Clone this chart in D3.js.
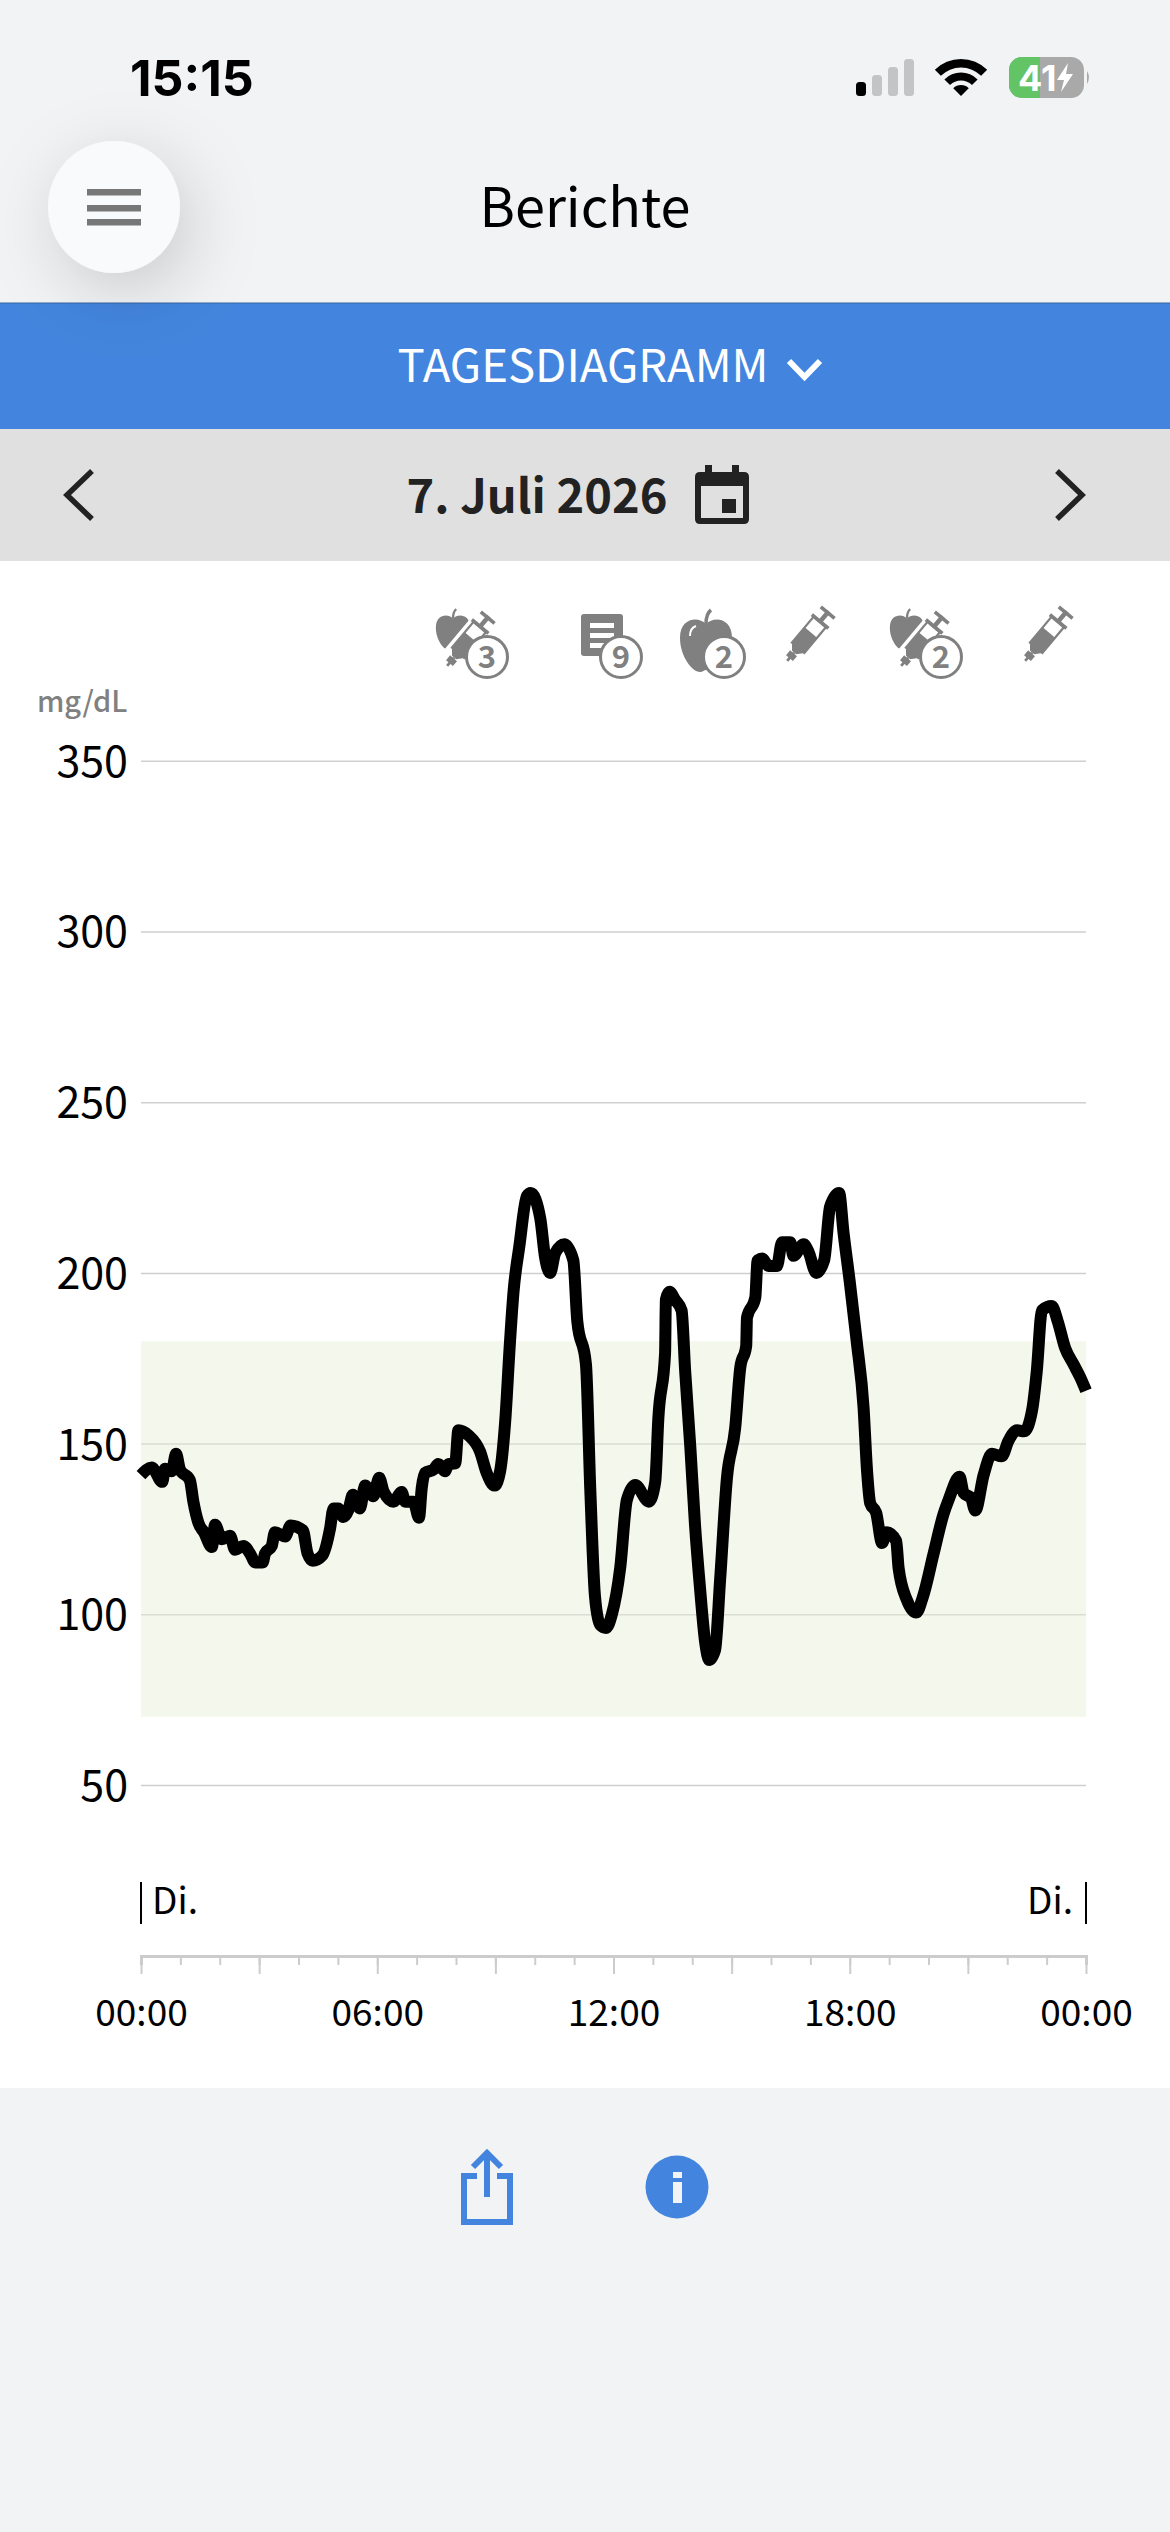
<!DOCTYPE html>
<html lang="de">
<head>
<meta charset="utf-8">
<title>Berichte - Tagesdiagramm</title>
<script src="https://d3js.org/d3.v7.min.js"></script>
<style>
	html, body { margin: 0; padding: 0; background: #f1f3f5; }
	svg { display: block; }
	text { font-family: "Noto Sans CJK JP", "Noto Sans", sans-serif; }
	.status { font-family: Inter, Roboto, sans-serif; font-weight: 700; }
	.yAxis text, .xAxis text { font-family: "Noto Sans CJK JP", "Noto Sans", sans-serif; fill: #000; }
</style>
</head>
<body>
<script>
	// time of each reading (hours since midnight) and glucose in mg/dL
	var hours = [0,0.27,0.54,0.61,0.78,0.89,0.99,1.24,1.33,1.46,1.6,1.8,1.88,2.05,2.26,2.39,2.6,2.77,2.9,3.09,
		3.15,3.32,3.4,3.66,3.8,4.11,4.23,4.36,4.61,4.8,4.89,5.01,5.14,5.27,5.38,5.56,5.69,5.9,6.05,6.16,
		6.41,6.62,6.71,6.92,7.06,7.13,7.21,7.43,7.55,7.72,7.81,7.98,8.06,8.32,8.61,8.78,8.98,9.12,9.25,9.37,
		9.46,9.61,9.8,9.9,10.14,10.26,10.39,10.52,10.75,10.98,11.08,11.3,11.41,11.53,11.66,11.81,11.96,12.17,12.34,12.55,
		12.9,13.06,13.14,13.31,13.33,13.42,13.56,13.73,13.82,13.95,14.07,14.2,14.33,14.43,14.58,14.71,14.88,15.09,15.22,15.37,
		15.39,15.6,15.66,15.78,15.94,16.15,16.28,16.49,16.57,16.83,16.95,17.15,17.35,17.5,17.73,17.84,18,18.18,18.35,18.44,
		18.52,18.67,18.82,18.94,19.18,19.24,19.45,19.69,19.86,20.13,20.38,20.51,20.79,20.89,21.08,21.19,21.4,21.61,21.86,22.03,
		22.25,22.43,22.63,22.75,22.88,23.13,23.28,23.47,23.68,23.85,24];
	var glucose = [140.8,143,138.8,142.6,141.9,147,142.4,139.3,133,126.7,124,119.7,126.2,122,123,118.9,120,117.8,115.2,115.2,
		117.8,120,124,122.8,126,124.6,117.8,115.7,117.3,125,131,131,128.5,130.6,135,131,137.7,134.6,140,136,
		133,135.8,133,133,128.3,137,141.4,142.4,144,141.9,144,144.2,153.9,152.4,147.7,141.4,137.7,141.9,156.6,179.6,
		194.3,207.9,222.5,223.4,216,204.7,200,205.8,208.4,203.7,185.9,173.3,136.7,105.2,96.9,96,100,113.6,133.5,137.9,
		133,138.8,157.6,176.5,192.2,194.5,192.2,189,171.2,149.2,126.2,107.3,91.6,86.6,89.5,110.5,139.8,154.5,172.3,178.6,
		186.9,192.7,203.7,204.2,202,202,209,209,205,208.4,206.3,200,203.7,219.4,223.4,212,197.4,179.6,160.7,141.9,
		132.5,129.8,120.9,124,121.5,113.6,104.2,100.5,105.2,117.8,129.3,133.5,140.3,135.6,134,130.4,140.8,147,146.3,150.8,
		153.9,153.6,159.7,171.2,189,190.3,185.9,178,173.3,169.5,165.5];

	var yTicks = [50,100,150,200,250,300,350];
	var hourTicks = d3.range(0,25);
	var majorTicks = [0,3,6,9,12,15,18,21,24];
	var xLabels = {0:"00:00",6:"06:00",12:"12:00",18:"18:00",24:"00:00"};
	var targetRange = [70,180];
	// event icons along the top of the chart
	var eventIcons = [
		{kind:"both", x:468, badge:3},
		{kind:"note", x:602, badge:9},
		{kind:"apple", x:706, badge:2},
		{kind:"syringe", x:808},
		{kind:"both", x:922, badge:2},
		{kind:"syringe", x:1046}
	];

	var width = 1170, height = 2532;
	var blue = "#4385de", grey = "#808080", pageBg = "#f1f3f5";

	var svg = d3.select("body").append("svg")
		.attr("width", width)
		.attr("height", height);

	var defs = svg.append("defs");
	var shadow = defs.append("filter").attr("id","btnShadow")
		.attr("x","-100%").attr("y","-100%").attr("width","320%").attr("height","320%");
	shadow.append("feDropShadow")
		.attr("dx",10).attr("dy",18).attr("stdDeviation",34)
		.attr("flood-color","#000").attr("flood-opacity",0.17);

	// page bands
	svg.append("rect").attr("width",width).attr("height",height).attr("fill",pageBg);
	svg.append("rect").attr("y",303).attr("width",width).attr("height",126).attr("fill",blue);
	svg.append("rect").attr("y",429).attr("width",width).attr("height",132).attr("fill","#e0e0e0");
	svg.append("rect").attr("y",561).attr("width",width).attr("height",1527).attr("fill","#fff");
	svg.append("line").attr("x1",0).attr("x2",width).attr("y1",303).attr("y2",303)
		.attr("stroke","#35669f").attr("stroke-width",1);

	// status bar
	svg.append("text").attr("class","status").attr("x",130).attr("y",96)
		.attr("font-size",50).attr("fill","#000").text("15:15");

	var signal = [[856,82],[872,75],[888,67],[904,59]];
	svg.selectAll(".sig").data(signal).enter().append("rect")
		.attr("x",function(d){ return d[0]; })
		.attr("y",function(d){ return d[1]; })
		.attr("width",10)
		.attr("height",function(d){ return 96-d[1]; })
		.attr("rx",3.5)
		.attr("fill",function(d,i){ return i==0 ? "#000" : "#c2c4c6"; });

	var wifi = d3.arc().startAngle(-Math.PI/4).endAngle(Math.PI/4);
	[[0,11],[15.5,23.5],[28.5,37]].forEach(function(r){
		svg.append("path")
			.attr("transform","translate(961,96)")
			.attr("d",wifi({innerRadius:r[0],outerRadius:r[1]}))
			.attr("fill","#000");
	});

	defs.append("clipPath").attr("id","battClip")
		.append("rect").attr("x",1009).attr("y",57).attr("width",75).attr("height",41).attr("rx",13);
	var batt = svg.append("g");
	batt.append("rect").attr("x",1009).attr("y",57).attr("width",75).attr("height",41).attr("fill","#a9a9a9").attr("clip-path","url(#battClip)");
	batt.append("rect").attr("x",1009).attr("y",57).attr("width",31).attr("height",41).attr("fill","#63c466").attr("clip-path","url(#battClip)");
	batt.append("path").attr("d","M1087,71 Q1091,77 1087,84 Z").attr("fill","#a9a9a9");
	batt.append("text").attr("class","status").attr("x",1018).attr("y",91)
		.attr("font-size",36).attr("fill","#fff").text("41");
	batt.append("path").attr("d","M1068,63 L1057,80 L1064,80 L1061,92 L1073,74 L1066,74 Z").attr("fill","#fff");

	// header
	svg.append("text").attr("x",585).attr("y",227).attr("text-anchor","middle")
		.attr("font-size",54).attr("fill","#000").text("Berichte");

	svg.append("text").attr("x",583).attr("y",382).attr("text-anchor","middle")
		.attr("font-size",45.5).attr("fill","#fff").text("TAGESDIAGRAMM");
	svg.append("path").attr("d","M789,361 L804.5,377 L820,361")
		.attr("fill","none").attr("stroke","#fff").attr("stroke-width",6);

	svg.append("text").attr("x",537).attr("y",513).attr("text-anchor","middle")
		.attr("font-size",47).attr("font-weight",700).attr("fill","#222").text("7. Juli 2026");
	svg.append("path").attr("d","M92,471 L67,495 L92,519 M1057,471 L1082,495 L1057,519")
		.attr("fill","none").attr("stroke","#222").attr("stroke-width",5.5);

	// calendar icon
	var cal = svg.append("g").attr("fill","#222");
	cal.append("path").attr("fill-rule","evenodd")
		.attr("d","M700,472 H705 V465 H712 V472 H732 V465 H739 V472 H744 Q749,472 749,477 V519 Q749,524 744,524 H700 Q695,524 695,519 V477 Q695,472 700,472 Z M701,486 V518 H743 V486 Z");
	cal.append("rect").attr("x",722).attr("y",499).attr("width",14).attr("height",14);

	// menu button
	svg.append("circle").attr("cx",114).attr("cy",207).attr("r",66)
		.attr("fill","#f9fafb").attr("filter","url(#btnShadow)");
	svg.selectAll(".bar").data([189,205,219]).enter().append("rect")
		.attr("x",87).attr("y",function(d){ return d; })
		.attr("width",54).attr("height",6.5).attr("fill","#777");

	// chart
	var x = d3.scaleLinear().domain([0,24]).range([141,1086]);
	var y = d3.scaleLinear().domain([100,200]).range([1614.3,1272.9]);

	svg.append("g").attr("class","yAxis")
		.attr("transform","translate(141,0)")
		.call(d3.axisLeft(y).tickValues(yTicks).tickSize(-945).tickPadding(13))
		.call(function(g){
			g.select(".domain").remove();
			g.selectAll("line").attr("stroke","#cfcfcf").attr("stroke-width",1.5);
			g.selectAll("text").attr("font-size",43).attr("dy","0.36em");
		});

	// target range sits over the grid, that is why the lines fade inside it
	svg.append("rect")
		.attr("x",x(0))
		.attr("width",x(24)-x(0))
		.attr("y",y(targetRange[1]))
		.attr("height",y(targetRange[0])-y(targetRange[1]))
		.attr("fill","#e7eed4")
		.attr("opacity",0.45);

	var line = d3.line()
		.x(function(d){ return x(d[0]); })
		.y(function(d){ return y(d[1]); })
		.curve(d3.curveMonotoneX);

	svg.append("path")
		.datum(d3.zip(hours,glucose))
		.attr("d",line)
		.attr("fill","none")
		.attr("stroke","#000")
		.attr("stroke-width",12)
		.attr("stroke-linejoin","round");

	svg.append("text").attr("x",37).attr("y",712)
		.attr("font-size",29).attr("font-weight",500).attr("fill",grey).text("mg/dL");

	// day markers
	var axisY = 1956;
	[[0,"start",11,"Di."],[24,"end",-13,"Di."]].forEach(function(m){
		svg.append("line").attr("x1",x(m[0])).attr("x2",x(m[0]))
			.attr("y1",1882).attr("y2",1924)
			.attr("stroke","#000").attr("stroke-width",2);
		svg.append("text").attr("x",x(m[0])+m[2]).attr("y",1914)
			.attr("text-anchor",m[1]).attr("font-size",37).attr("fill","#000").text(m[3]);
	});

	// x axis, hours short, every third hour long
	svg.append("g")
		.attr("transform","translate(0,"+axisY+")")
		.call(d3.axisBottom(x).tickValues(hourTicks).tickSizeOuter(0).tickSize(9).tickFormat(""))
		.call(function(g){
			g.select(".domain").attr("stroke","#cccccc").attr("stroke-width",3);
			g.selectAll("line").attr("stroke","#cccccc").attr("stroke-width",2);
		});
	svg.append("g").attr("class","xAxis")
		.attr("transform","translate(0,"+axisY+")")
		.call(d3.axisBottom(x).tickValues(majorTicks).tickSize(18).tickPadding(26)
			.tickFormat(function(d){ return xLabels[d] || ""; }))
		.call(function(g){
			g.select(".domain").remove();
			g.selectAll("line").attr("stroke","#cccccc").attr("stroke-width",2);
			g.selectAll("text").attr("font-size",37);
		});

	// event icons
	var applePath = "M0,-16 C-8,-24 -26,-22 -26,-2 C-26,16 -14,32 -6,32 C-3,32 -2,30 0,30 C2,30 3,32 6,32 C14,32 26,16 26,-2 C26,-22 8,-24 0,-16 Z";

	function drawApple(g, cx, cy, s) {
		var a = g.append("g").attr("transform","translate("+cx+","+cy+") scale("+s+")");
		a.append("path").attr("d",applePath).attr("fill",grey);
		a.append("path").attr("d","M0,-16 C0,-23 1,-27 5,-30")
			.attr("fill","none").attr("stroke",grey).attr("stroke-width",3.5);
		return a;
	}

	function drawSyringe(g, cx, cy, halo) {
		var s = g.append("g").attr("transform","translate("+cx+","+cy+") rotate(40) scale(0.9)");
		if (halo) {
			s.append("rect").attr("x",-14).attr("y",-24).attr("width",28).attr("height",50).attr("fill","#fff");
		}
		s.append("rect").attr("x",-10).attr("y",-36).attr("width",20).attr("height",4).attr("fill",grey);
		s.append("rect").attr("x",-2.5).attr("y",-36).attr("width",5).attr("height",15).attr("fill",grey);
		s.append("rect").attr("x",-12).attr("y",-23).attr("width",24).attr("height",4).attr("fill",grey);
		s.append("rect").attr("x",-9).attr("y",-20).attr("width",18).attr("height",37).attr("fill","#fff")
			.attr("stroke",grey).attr("stroke-width",2.5);
		s.append("rect").attr("x",-9).attr("y",-5).attr("width",18).attr("height",22).attr("fill",grey);
		s.append("path").attr("d","M-9,17 L-3,24 L3,24 L9,17 Z").attr("fill",grey);
		s.append("rect").attr("x",-1.5).attr("y",24).attr("width",3).attr("height",12).attr("fill",grey);
		s.append("rect").attr("x",-5).attr("y",25).attr("width",10).attr("height",7).attr("fill",grey);
	}

	function drawBadge(g, cx, cy, n) {
		g.append("circle").attr("cx",cx).attr("cy",cy).attr("r",20.5)
			.attr("fill","#fff").attr("stroke",grey).attr("stroke-width",3);
		g.append("text").attr("x",cx).attr("y",cy+11).attr("text-anchor","middle")
			.attr("font-size",31).attr("font-weight",700).attr("fill",grey).text(n);
	}

	eventIcons.forEach(function(d){
		var g = svg.append("g");
		if (d.kind == "syringe") {
			drawSyringe(g, d.x, 636, false);
		} else if (d.kind == "apple") {
			drawApple(g, d.x, 640, 1).append("path")
				.attr("d","M-16,-4 C-16,-10 -13,-13 -10,-14")
				.attr("fill","none").attr("stroke","#fff").attr("stroke-width",2);
			drawBadge(g, d.x+18, 657, d.badge);
		} else if (d.kind == "note") {
			g.append("rect").attr("x",d.x-21).attr("y",614).attr("width",42).attr("height",42).attr("rx",3).attr("fill",grey);
			g.selectAll(".ln").data([623,633,643]).enter().append("rect")
				.attr("x",d.x-12).attr("y",function(v){ return v; })
				.attr("width",24).attr("height",5).attr("fill","#fff");
			drawBadge(g, d.x+19, 657, d.badge);
		} else {
			drawApple(g, d.x-15, 629, 0.66);
			drawSyringe(g, d.x, 641, true);
			drawBadge(g, d.x+19, 657, d.badge);
		}
	});

	// footer icons
	var footer = svg.append("g");
	footer.append("path").attr("d","M477,2176 H464 V2222 H510 V2176 H497")
		.attr("fill","none").attr("stroke",blue).attr("stroke-width",6);
	footer.append("path").attr("d","M487,2197 V2154 M473,2167 L487,2153 L501,2167")
		.attr("fill","none").attr("stroke",blue).attr("stroke-width",6);
	footer.append("circle").attr("cx",677).attr("cy",2187).attr("r",31.5).attr("fill",blue);
	footer.append("rect").attr("x",673).attr("y",2172).attr("width",9).attr("height",6).attr("fill",pageBg);
	footer.append("rect").attr("x",673).attr("y",2182).attr("width",9).attr("height",21).attr("fill",pageBg);
</script>
</body>
</html>
